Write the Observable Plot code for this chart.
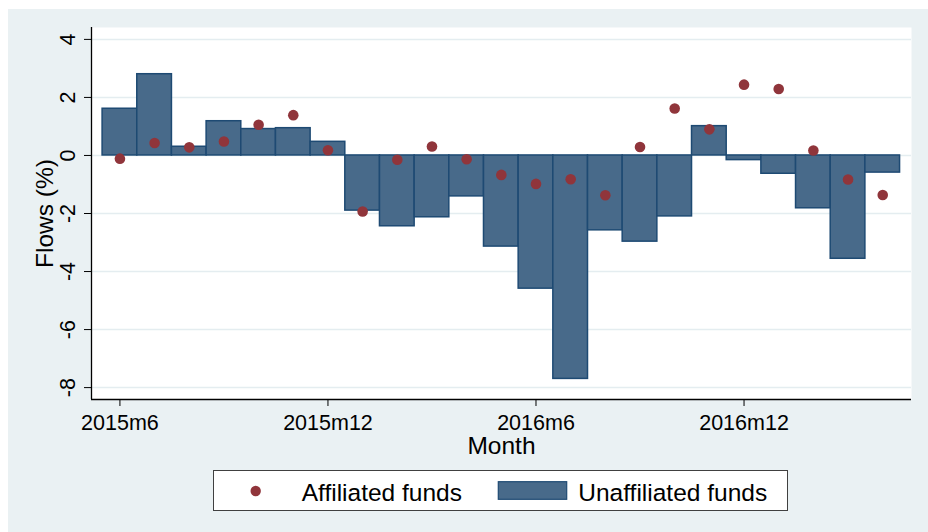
<!DOCTYPE html>
<html>
<head>
<meta charset="utf-8">
<script src="https://cdn.jsdelivr.net/npm/d3@7"></script>
<script src="https://cdn.jsdelivr.net/npm/@observablehq/plot@0.6"></script>
<style>
  body { margin: 0; background: #ffffff; font-family: "Liberation Sans", Arial, sans-serif; }
  #wrap { position: relative; width: 928px; height: 532px; overflow: hidden; }
  #panel { position: absolute; left: 8px; top: 9px; right: 0; bottom: 0; background: #eaf1f3; }
  #chart { position: absolute; left: 0; top: 0; }
  #legend { position: absolute; left: 0; top: 462px; }
</style>
</head>
<body>
<div id="wrap">
  <div id="panel"></div>
  <div id="chart"></div>
  <svg id="legend" width="928" height="70"></svg>
</div>
<script>
const months = ["2015m6","2015m7","2015m8","2015m9","2015m10","2015m11","2015m12",
  "2016m1","2016m2","2016m3","2016m4","2016m5","2016m6","2016m7","2016m8","2016m9",
  "2016m10","2016m11","2016m12","2017m1","2017m2","2017m3","2017m4"];
const unaffiliated = [1.61, 2.80, 0.30, 1.18, 0.91, 0.94, 0.47, -1.90, -2.44, -2.13, -1.41, -3.14,
  -4.59, -7.70, -2.58, -2.97, -2.10, 1.01, -0.16, -0.63, -1.82, -3.56, -0.59];
const affiliated = [-0.11, 0.43, 0.28, 0.48, 1.06, 1.39, 0.18, -1.93, -0.15, 0.31, -0.13, -0.67,
  -0.98, -0.82, -1.37, 0.29, 1.62, 0.90, 2.44, 2.29, 0.17, -0.83, -1.36];
const xTickLabels = ["2015m6", "2015m12", "2016m6", "2016m12"];
const yTicks = [-8, -6, -4, -2, 0, 2, 4];
const seriesNames = ["Affiliated funds", "Unaffiliated funds"];
const xTitle = "Month";
const yTitle = "Flows (%)";

const data = months.map((m, i) => ({i, m, u: unaffiliated[i], a: affiliated[i]}));
const xTicks = xTickLabels.map(l => ({i: months.indexOf(l), label: l}));

const barFill = "#486a8a", barStroke = "#1e4a73", dotFill = "#90353b";
const font = "Liberation Sans, Arial, sans-serif";
const xDomain = [-0.82, 22.83];
const yDomain = [-8.41, 4.41];

const chart = Plot.plot({
  width: 928,
  height: 462,
  marginLeft: 91,
  marginRight: 17,
  marginTop: 27,
  marginBottom: 63,
  x: {type: "linear", domain: xDomain},
  y: {type: "linear", domain: yDomain},
  style: {background: "transparent", fontFamily: font, overflow: "visible"},
  marks: [
    Plot.frame({fill: "white", stroke: null}),
    Plot.ruleY(yTicks, {stroke: "#e4edf0", strokeWidth: 1.5}),
    Plot.rect(data, {x1: d => d.i - 0.5, x2: d => d.i + 0.5, y1: 0, y2: "u",
      fill: barFill, stroke: barStroke, strokeWidth: 1.5}),
    Plot.dot(data, {x: "i", y: "a", r: 5.3, fill: dotFill, stroke: null}),
    Plot.ruleX([xDomain[0]], {stroke: "#000", strokeWidth: 1.3}),
    Plot.ruleY([yDomain[0]], {stroke: "#000", strokeWidth: 1.3}),
    Plot.axisY(yTicks, {tickSize: 7, tickFormat: () => "", label: null, stroke: "#000"}),
    Plot.axisX(xTicks.map(d => d.i), {tickSize: 7, tickFormat: () => "", label: null, stroke: "#000"}),
    Plot.text(yTicks, {y: d => d, text: d => String(d), frameAnchor: "left", dx: -23,
      rotate: -90, fontSize: 21.5, textAnchor: "middle", lineAnchor: "middle", fill: "#000"}),
    Plot.text(xTicks, {x: "i", text: "label", frameAnchor: "bottom", dy: 24,
      fontSize: 21.5, textAnchor: "middle", lineAnchor: "middle", fill: "#000"}),
    Plot.text([xTitle], {text: d => d, frameAnchor: "bottom", dy: 47,
      fontSize: 24.5, textAnchor: "middle", lineAnchor: "middle", fill: "#000"}),
    Plot.text([yTitle], {text: d => d, frameAnchor: "left", dx: -46, rotate: -90,
      fontSize: 24.5, textAnchor: "middle", lineAnchor: "middle", fill: "#000"})
  ]
});
document.getElementById("chart").appendChild(chart);

// legend
const lg = d3.select("#legend").style("font-family", font);
lg.append("rect").attr("x", 213.5).attr("y", 8.5).attr("width", 574).attr("height", 40)
  .attr("fill", "#fff").attr("stroke", "#404040").attr("stroke-width", 1);
lg.append("circle").attr("cx", 255.7).attr("cy", 29).attr("r", 5.2).attr("fill", dotFill);
lg.append("text").attr("x", 301.7).attr("y", 38.7).attr("font-size", 24.5).attr("fill", "#000")
  .text(seriesNames[0]);
lg.append("rect").attr("x", 498.3).attr("y", 19.7).attr("width", 68.4).attr("height", 17.6)
  .attr("fill", barFill).attr("stroke", barStroke).attr("stroke-width", 1.2);
lg.append("text").attr("x", 578.3).attr("y", 38.7).attr("font-size", 24.5).attr("fill", "#000")
  .text(seriesNames[1]);
</script>
</body>
</html>
